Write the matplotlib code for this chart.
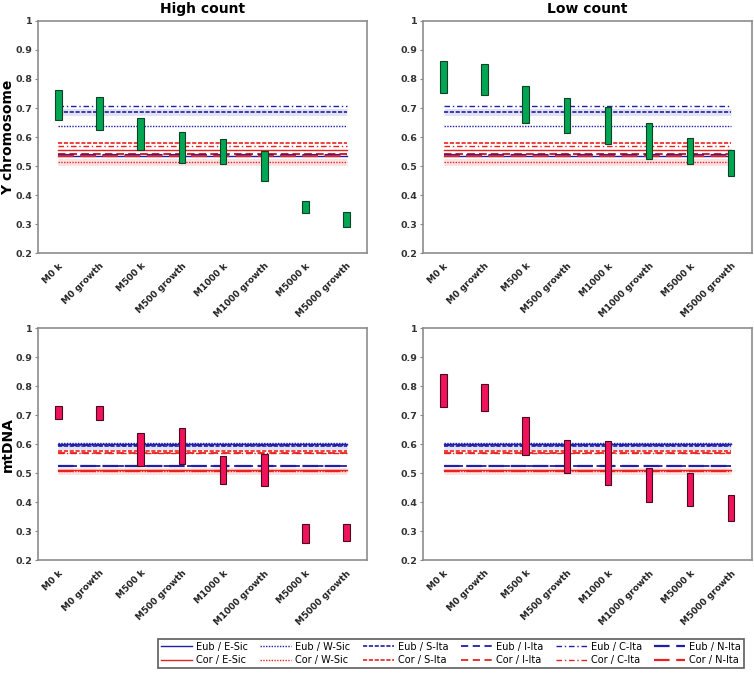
import matplotlib
matplotlib.use("Agg")
import matplotlib.pyplot as plt
from matplotlib.lines import Line2D

categories = ["M0 k", "M0 growth", "M500 k", "M500 growth", "M1000 k",
              "M1000 growth", "M5000 k", "M5000 growth"]

# Bar ranges (low, high)
y_high_low = [0.659, 0.625, 0.556, 0.509, 0.507, 0.448, 0.337, 0.291]
y_high_high = [0.762, 0.737, 0.664, 0.617, 0.593, 0.552, 0.380, 0.343]
y_low_low = [0.753, 0.744, 0.647, 0.615, 0.576, 0.523, 0.508, 0.464]
y_low_high = [0.862, 0.852, 0.775, 0.733, 0.703, 0.649, 0.598, 0.554]
mt_high_low = [0.685, 0.683, 0.525, 0.531, 0.462, 0.456, 0.261, 0.267]
mt_high_high = [0.731, 0.733, 0.637, 0.656, 0.560, 0.566, 0.324, 0.324]
mt_low_low = [0.729, 0.715, 0.561, 0.499, 0.459, 0.401, 0.386, 0.336]
mt_low_high = [0.841, 0.807, 0.692, 0.614, 0.611, 0.518, 0.502, 0.425]

regions = ["E-Sic", "W-Sic", "S-Ita", "I-Ita", "C-Ita", "N-Ita"]
# Reference values (Eub / region, Cor / region)
y_eub = [0.536, 0.639, 0.686, 0.541, 0.708, 0.538]
y_cor = [0.556, 0.515, 0.578, 0.541, 0.569, 0.534]
mt_eub = [0.600, 0.604, 0.594, 0.526, 0.596, 0.524]
mt_cor = [0.511, 0.507, 0.578, 0.571, 0.570, 0.509]

styles = [
    dict(linestyle="-", linewidth=1.0),
    dict(linestyle=(0, (1, 1)), linewidth=1.0),
    dict(linestyle=(0, (2.5, 1)), linewidth=1.2),
    dict(linestyle=(0, (4, 2.5)), linewidth=1.3),
    dict(linestyle=(0, (4, 2, 1, 2)), linewidth=1.0),
    dict(linestyle=(0, (7, 3)), linewidth=1.6),
]
blue = "#1f1fa8"
red = "#e8231f"

fig = plt.figure(figsize=(7.54, 6.75), dpi=100)
fig.patch.set_facecolor("white")

positions = {
    (0, 0): [0.050, 0.625, 0.437, 0.344],
    (0, 1): [0.561, 0.625, 0.436, 0.344],
    (1, 0): [0.050, 0.170, 0.437, 0.344],
    (1, 1): [0.561, 0.170, 0.436, 0.344],
}

panels = {
    (0, 0): (y_high_low, y_high_high, y_eub, y_cor, "#00a651", "#10402a"),
    (0, 1): (y_low_low, y_low_high, y_eub, y_cor, "#00a651", "#10402a"),
    (1, 0): (mt_high_low, mt_high_high, mt_eub, mt_cor, "#f0125a", "#4a0a20"),
    (1, 1): (mt_low_low, mt_low_high, mt_eub, mt_cor, "#f0125a", "#4a0a20"),
}

x = list(range(len(categories)))
for (r, c), (lo, hi, eub, cor, fc, ec) in panels.items():
    ax = fig.add_axes(positions[(r, c)])
    # reference lines
    for i, reg in enumerate(regions):
        for vals, col, grp in ((eub, blue, "Eub"), (cor, red, "Cor")):
            v = vals[i]
            if (grp == "Eub" and i == 2) or (grp == "Cor" and i == 1):
                ax.plot([x[0], x[-1]], [v, v], color=col, alpha=0.13,
                        linewidth=5, solid_capstyle="butt", zorder=1)
            ax.plot([x[0], x[-1]], [v, v], color=col, zorder=2, **styles[i])
    heights = [h - l for l, h in zip(lo, hi)]
    ax.bar(x, heights, bottom=lo, width=0.16, color=fc, edgecolor=ec,
           linewidth=0.8, zorder=3)
    ax.set_xlim(-0.5, len(categories) - 0.5)
    ax.set_ylim(0.2, 1.0)
    ax.set_yticks([0.2, 0.3, 0.4, 0.5, 0.6, 0.7, 0.8, 0.9, 1.0])
    ax.set_yticklabels(["0.2", "0.3", "0.4", "0.5", "0.6", "0.7", "0.8", "0.9", "1"],
                       fontsize=6.8, fontweight="bold", color="#333333")
    ax.set_xticks(x)
    ax.set_xticklabels(categories, rotation=45, ha="right", rotation_mode="anchor",
                       fontsize=6.5, fontweight="bold", color="#222222")
    ax.tick_params(axis="x", length=0, pad=6)
    ax.tick_params(axis="y", length=2, color="#888888", pad=2)
    for sp in ax.spines.values():
        sp.set_color("#8c8c8c")
        sp.set_linewidth(1.2)
    if r == 0:
        ax.set_title("High count" if c == 0 else "Low count", fontsize=10,
                     fontweight="bold", pad=6)
    if c == 0:
        ax.set_ylabel("Y chromosome" if r == 0 else "mtDNA", fontsize=10,
                      fontweight="bold")
        ax.yaxis.set_label_coords(-0.068, 0.5)

handles = []
labels = []
for i, reg in enumerate(regions):
    for grp, col in (("Eub", blue), ("Cor", red)):
        handles.append(Line2D([0], [0], color=col, **styles[i]))
        labels.append(f"{grp} / {reg}")

leg = fig.legend(handles, labels, ncol=6, loc="lower left",
                 bbox_to_anchor=(0.203, 0.003, 0.790, 0.047), mode="expand",
                 fontsize=7, frameon=True, fancybox=False, handlelength=3.2,
                 borderpad=0.3, labelspacing=0.35, columnspacing=1.0,
                 handletextpad=0.4)
leg.get_frame().set_edgecolor("#333333")
leg.get_frame().set_linewidth(1.2)

fig.savefig("out.png", dpi=100, facecolor="white")
